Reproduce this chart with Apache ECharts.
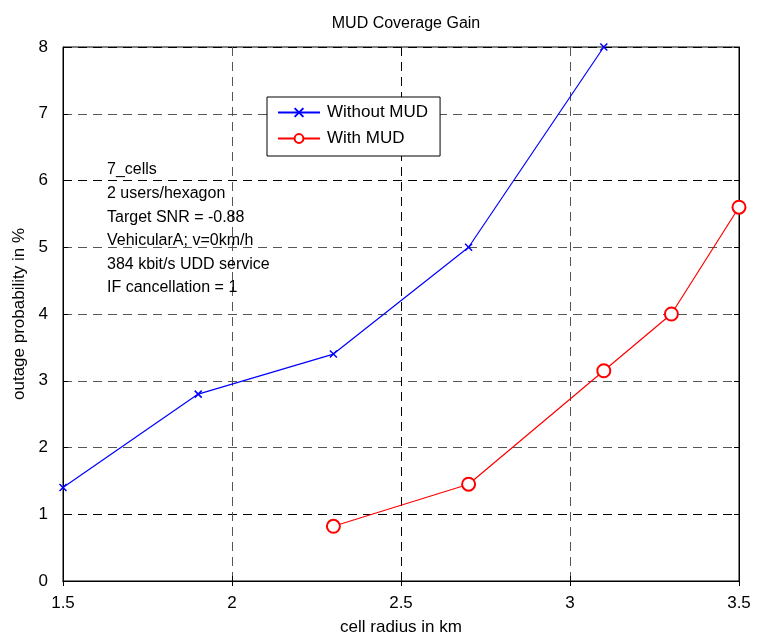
<!DOCTYPE html>
<html><head><meta charset="utf-8">
<script src="https://cdn.jsdelivr.net/npm/echarts@6/dist/echarts.min.js"></script>
<style>html,body{margin:0;padding:0;background:#fff}#c{width:760px;height:637px}</style>
</head><body><div id="c"></div>
<script>
const radiusWithout = [1.5, 1.9, 2.3, 2.7, 3.1];
const outageWithout = [1.4, 2.8, 3.4, 5.0, 8.0];
const radiusWith = [2.3, 2.7, 3.1, 3.3, 3.5];
const outageWith = [0.82, 1.45, 3.15, 4.0, 5.6];
const noteLines = ['7_cells', '2 users/hexagon', 'Target SNR = -0.88', 'VehicularA; v=0km/h', '384 kbit/s UDD service', 'IF cancellation = 1'];

const FONT = '"Liberation Sans", Arial, sans-serif';
const chart = echarts.init(document.getElementById('c'));
const crossPath = 'path://M0,0L10,10M10,0L0,10';
const gL = 63, gT = 47, gR = 760 - 739, gB = 637 - 581;

chart.setOption({
  animation: false,
  backgroundColor: '#fff',
  title: { text: 'MUD Coverage Gain', left: 401, top: 11, textAlign: 'center',
    textStyle: { fontFamily: FONT, fontSize: 16, fontWeight: 'normal', color: '#000' } },
  grid: { left: gL, top: gT, right: gR, bottom: gB, show: true, borderColor: '#000', borderWidth: 1,
    outerBoundsMode: 'none', containLabel: false },
  legend: {
    left: 267, top: 97, orient: 'vertical', itemGap: 9, itemWidth: 42, itemHeight: 11,
    backgroundColor: '#fff', borderColor: '#000', borderWidth: 1, borderRadius: 0,
    padding: [7, 12, 9, 10],
    textStyle: { fontFamily: FONT, fontSize: 17, color: '#000', padding: [0, 0, 0, 2] },
    data: ['Without MUD', 'With MUD']
  },
  xAxis: [{
    type: 'value', min: 1.5, max: 3.5, interval: 0.5,
    name: 'cell radius in km', nameLocation: 'middle', nameGap: 38,
    nameTextStyle: { fontFamily: FONT, fontSize: 17, color: '#000' },
    axisLine: { show: true, lineStyle: { color: '#000' } },
    axisTick: { show: true, inside: true, length: 5, lineStyle: { color: '#000' } },
    axisLabel: { fontFamily: FONT, fontSize: 17, color: '#000', margin: 14 },
    splitLine: { show: true, lineStyle: { type: [9, 6], color: ['#000', '#555', '#000', '#555', '#000'] } }
  }, {
    type: 'value', min: 1.5, max: 3.5, interval: 0.5, position: 'top',
    axisLine: { show: true, lineStyle: { color: '#000' } },
    axisTick: { show: true, inside: true, length: 5, lineStyle: { color: '#000' } },
    axisLabel: { show: false }, splitLine: { show: false }
  }],
  yAxis: [{
    type: 'value', min: 0, max: 8, interval: 1,
    name: 'outage probability in %', nameLocation: 'middle', nameGap: 29,
    nameTextStyle: { fontFamily: FONT, fontSize: 17, color: '#000' },
    axisLine: { show: true, lineStyle: { color: '#000' } },
    axisTick: { show: true, inside: true, length: 5, lineStyle: { color: '#000' } },
    axisLabel: { fontFamily: FONT, fontSize: 17, color: '#000', margin: 15 },
    splitLine: { show: true, lineStyle: { type: [9, 6],
      color: ['#000', '#000', '#555', '#555', '#555', '#555', '#000', '#555', '#000'] } }
  }, {
    type: 'value', min: 0, max: 8, interval: 1, position: 'right',
    axisLine: { show: true, lineStyle: { color: '#000' } },
    axisTick: { show: true, inside: true, length: 5, lineStyle: { color: '#000' } },
    axisLabel: { show: false }, splitLine: { show: false }
  }],
  series: [{
    name: 'Without MUD', type: 'line',
    data: radiusWithout.map((x, i) => [x, outageWithout[i]]),
    symbol: crossPath, symbolSize: 7, showAllSymbol: true,
    itemStyle: { color: '#0000ff', borderColor: '#0000ff', borderWidth: 1.5 },
    lineStyle: { color: '#0000ff', width: 1.2 }
  }, {
    name: 'With MUD', type: 'line',
    data: radiusWith.map((x, i) => [x, outageWith[i]]),
    symbol: 'emptyCircle', symbolSize: 13,
    itemStyle: { color: '#ff0000', borderColor: '#ff0000', borderWidth: 1.3 },
    lineStyle: { color: '#ff0000', width: 1.2 }
  }],
  graphic: noteLines.map((t, i) => ({
    type: 'text', left: 107, top: 162 + i * 23.6, z: 10,
    style: { text: t, font: '16px ' + FONT, fill: '#000' }
  }))
});
</script></body></html>
